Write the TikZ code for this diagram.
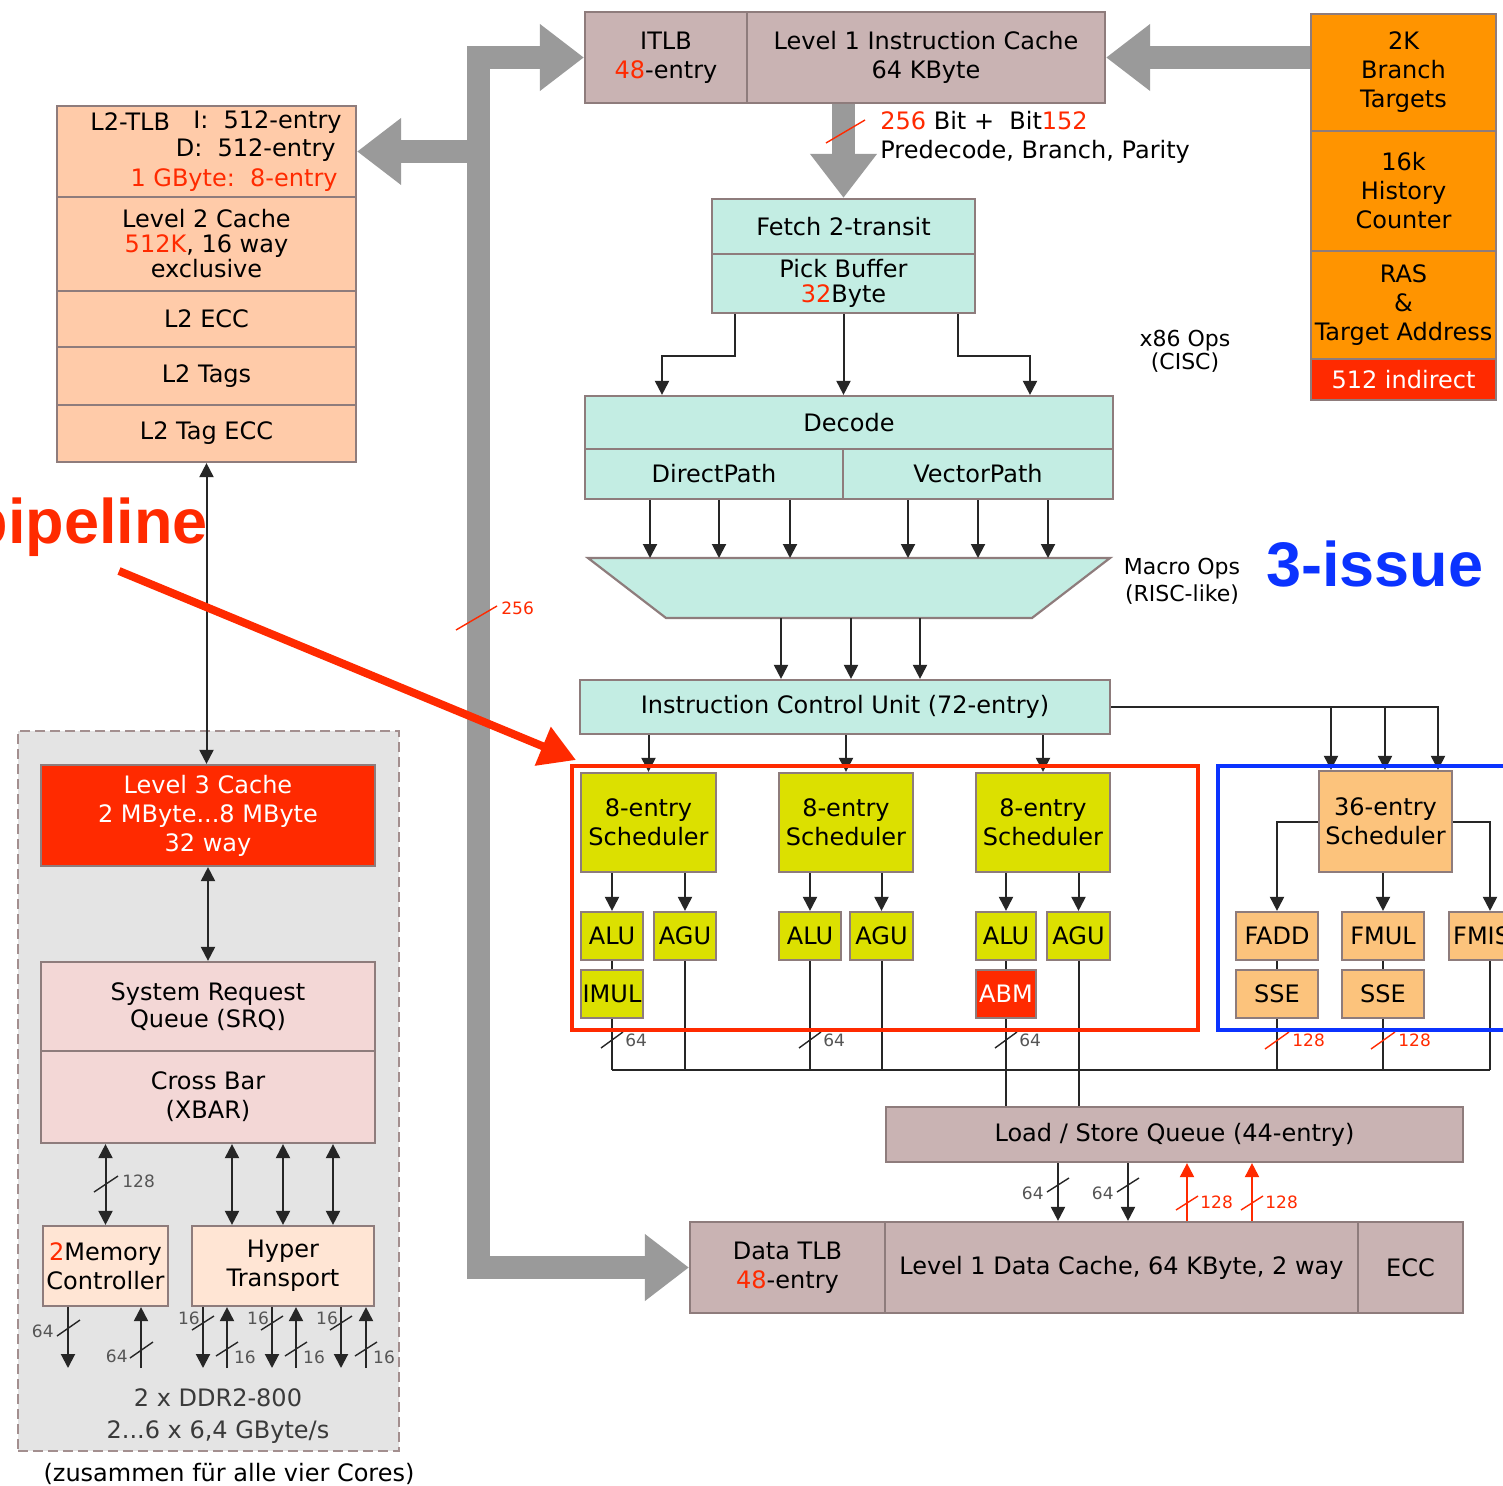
\documentclass[tikz,border=0pt]{standalone}
\usepackage{fontspec}
\setmainfont{DejaVu Sans}
\newfontfamily\annfont{Liberation Sans}
\usetikzlibrary{arrows.meta,fit}

\definecolor{taupe}{HTML}{C9B3B3}
\definecolor{bordc}{HTML}{8E7C7C}
\definecolor{teal}{HTML}{C3EDE3}
\definecolor{ltwo}{HTML}{FFCBA9}
\definecolor{srqc}{HTML}{F3D7D6}
\definecolor{ioc}{HTML}{FFE5D4}
\definecolor{bpo}{HTML}{FF9400}
\definecolor{hred}{HTML}{FF2A00}
\definecolor{yel}{HTML}{DCE000}
\definecolor{fpo}{HTML}{FCC37C}
\definecolor{busc}{HTML}{9A9A9A}
\definecolor{sysc}{HTML}{E4E4E4}
\definecolor{dashc}{HTML}{A38F8F}
\definecolor{hblue}{HTML}{0B33FF}
\definecolor{lnc}{HTML}{262626}
\definecolor{smc}{HTML}{555555}
\definecolor{ddrc}{HTML}{3A3A3A}

\newcommand\nf{\fontsize{12}{14.5}\selectfont}
\newcommand\smf{\fontsize{8.5}{10}\selectfont}
\newcommand\rd[1]{\textcolor{hred}{#1}}

\begin{document}
\begin{tikzpicture}[x=0.5pt,y=-0.5pt,
  blk/.style={draw=bordc, line width=1.1pt, inner sep=0pt},
  txt/.style={font=\nf, align=center, inner sep=0pt, text=black},
  ctext/.style={label={[txt]center:{#1}}},
  wtext/.style={label={[txt,text=white]center:{#1}}},
  ln/.style={draw=lnc, line width=1pt},
  arr/.style={ln, -{Triangle[length=7pt,width=7pt]}},
  darr/.style={ln, {Triangle[length=7pt,width=7pt]}-{Triangle[length=7pt,width=7pt]}},
  bus/.style={draw=busc, line width=11.5pt},
  busarr/.style={bus, -{Triangle[length=22pt,width=32pt]}},
  busarrs/.style={bus, {Triangle[length=22pt,width=32pt]}-{Triangle[length=22pt,width=32pt]}},
  slash/.style={draw=#1, line width=0.7pt},
  wl/.style={font=\smf, text=#1, inner sep=0pt},
]
\useasboundingbox (0,0) rectangle (1503,1486);
\fill[white] (0,0) rectangle (1503,1486);

% ---------- system block (shared by all cores) ----------
\node[fill=sysc, draw=dashc, line width=1.2pt, dash pattern=on 5pt off 2.5pt,
      inner sep=0pt, fit={(18,731) (399,1451)}] (sys) {};

% ---------- L2 stack ----------
\node[blk, fill=ltwo, fit={(57,106) (356,197)}] (l2tlb) {};
\node[txt, anchor=west] (l2tlbn) at (90,122) {L2-TLB};
\node[txt, anchor=east] (l2i) at (342,122) {I:\ \ 512-entry};
\node[txt, anchor=east] (l2d) at (336,150) {D:\ \ 512-entry};
\node[txt, anchor=east, text=hred] (l2g) at (338,180) {1 GByte:\ \ 8-entry};
\node[blk, fill=ltwo, fit={(57,197) (356,291)}, ctext={Level 2 Cache\\[-2pt]\rd{512K}, 16 way\\[-2pt]exclusive}] (l2c) {};
\node[blk, fill=ltwo, fit={(57,291) (356,347)}, ctext={L2 ECC}] (l2ecc) {};
\node[blk, fill=ltwo, fit={(57,347) (356,405)}, ctext={L2 Tags}] (l2tag) {};
\node[blk, fill=ltwo, fit={(57,405) (356,462)}, ctext={L2 Tag ECC}] (l2tecc) {};

% ---------- instruction cache, branch prediction ----------
\node[blk, fill=taupe, fit={(585,12) (747,103)}, ctext={ITLB\\\rd{48}-entry}] (itlb) {};
\node[blk, fill=taupe, fit={(747,12) (1105,103)}, ctext={Level 1 Instruction Cache\\64 KByte}] (l1i) {};
\node[blk, fill=bpo, fit={(1311,14) (1496,131)}, ctext={2K\\Branch\\Targets}] (btb) {};
\node[blk, fill=bpo, fit={(1311,131) (1496,251)}, ctext={16k\\History\\Counter}] (hist) {};
\node[blk, fill=bpo, fit={(1311,251) (1496,359)}, ctext={RAS\\\&\\Target Address}] (ras) {};
\node[blk, fill=hred, fit={(1311,359) (1496,400)}, wtext={512 indirect}] (ind) {};

% ---------- fetch / decode ----------
\node[blk, fill=teal, fit={(712,199) (975,254)}, ctext={Fetch 2-transit}] (fetcha) {};
\node[blk, fill=teal, fit={(712,254) (975,313)}, ctext={Pick Buffer\\[-2pt]\rd{32}Byte}] (fetchb) {};
\node[blk, fill=teal, fit={(585,396) (1113,449)}, ctext={Decode}] (dec) {};
\node[blk, fill=teal, fit={(585,449) (843,499)}, ctext={DirectPath}] (dpath) {};
\node[blk, fill=teal, fit={(843,449) (1113,499)}, ctext={VectorPath}] (vpath) {};

% pack stage (trapezoid)
\draw[blk, fill=teal] (588,558) -- (1110,558) -- (1032,618) -- (666,618) -- cycle;
\coordinate (muxt) at (849,558);
\coordinate (muxb) at (849,618);

\node[blk, fill=teal, fit={(580,680) (1110,734)}, ctext={Instruction Control Unit (72-entry)}] (icu) {};

% ---------- integer cluster ----------
\node[blk, fill=yel, fit={(581,773) (716,872)}, ctext={8-entry\\Scheduler}] (s1) {};
\node[blk, fill=yel, fit={(779,773) (913,872)}, ctext={8-entry\\Scheduler}] (s2) {};
\node[blk, fill=yel, fit={(976,773) (1110,872)}, ctext={8-entry\\Scheduler}] (s3) {};
\node[blk, fill=yel, fit={(581,912) (643,960)}, ctext={ALU}] (alu1) {};
\node[blk, fill=yel, fit={(654,912) (716,960)}, ctext={AGU}] (agu1) {};
\node[blk, fill=yel, fit={(581,970) (643,1018)}, ctext={IMUL}] (imul) {};
\node[blk, fill=yel, fit={(779,912) (841,960)}, ctext={ALU}] (alu2) {};
\node[blk, fill=yel, fit={(850,912) (913,960)}, ctext={AGU}] (agu2) {};
\node[blk, fill=yel, fit={(976,912) (1036,960)}, ctext={ALU}] (alu3) {};
\node[blk, fill=yel, fit={(1047,912) (1110,960)}, ctext={AGU}] (agu3) {};
\node[blk, fill=hred, fit={(976,970) (1036,1018)}, wtext={ABM}] (abm) {};

% ---------- floating point cluster ----------
\node[blk, fill=fpo, fit={(1319,771) (1452,872)}, ctext={36-entry\\Scheduler}] (fps) {};
\node[blk, fill=fpo, fit={(1236,912) (1318,960)}, ctext={FADD}] (fadd) {};
\node[blk, fill=fpo, fit={(1342,912) (1424,960)}, ctext={FMUL}] (fmul) {};
\node[blk, fill=fpo, fit={(1449,912) (1531,960)}, ctext={FMISC}] (fmisc) {};
\node[blk, fill=fpo, fit={(1236,970) (1318,1018)}, ctext={SSE}] (sse1) {};
\node[blk, fill=fpo, fit={(1342,970) (1424,1018)}, ctext={SSE}] (sse2) {};

% ---------- load/store, data cache ----------
\node[blk, fill=taupe, fit={(886,1107) (1463,1162)}, ctext={Load / Store Queue (44-entry)}] (lsq) {};
\node[blk, fill=taupe, fit={(690,1222) (885,1313)}, ctext={Data TLB\\\rd{48}-entry}] (dtlb) {};
\node[blk, fill=taupe, fit={(885,1222) (1358,1313)}, ctext={Level 1 Data Cache, 64 KByte, 2 way}] (l1d) {};
\node[blk, fill=taupe, fit={(1358,1222) (1463,1313)}, ctext={ECC}] (ecc) {};

% ---------- L3, SRQ, crossbar, I/O ----------
\node[blk, fill=hred, fit={(41,765) (375,866)}, wtext={Level 3 Cache\\2 MByte...8 MByte\\32 way}] (l3) {};
\node[blk, fill=srqc, fit={(41,962) (375,1051)}, ctext={System Request\\[-1pt]Queue (SRQ)}] (srq) {};
\node[blk, fill=srqc, fit={(41,1051) (375,1143)}, ctext={Cross Bar\\(XBAR)}] (xbar) {};
\node[blk, fill=ioc, fit={(43,1226) (168,1306)}, ctext={\rd{2}Memory\\Controller}] (mc) {};
\node[blk, fill=ioc, fit={(192,1226) (374,1306)}, ctext={Hyper\\Transport}] (ht) {};

% ---------- wide internal buses ----------
\coordinate (busbend) at (478,1267.5);
\draw[busarrs] (itlb.west) -| (busbend) -- (dtlb.west);
\draw[busarr] (busbend |- l2tlb.east) -- (l2tlb.east);
\draw[busarr] (btb.west |- l1i.east) -- (l1i.east);
\draw[busarr] (fetcha.north |- l1i.south) -- (fetcha.north);
\draw[slash=hred] (456,630) -- (497,606);
\node[wl=hred, anchor=west] (w256) at (501,608) {256};
\draw[slash=hred] (826,143) -- (865,120);
\node[txt, anchor=west] (ifw) at (880,121) {\rd{256} Bit +\ \ Bit\rd{152}};
\node[txt, anchor=west] (ifp) at (880,152) {Predecode, Branch, Parity};

% ---------- front-end connectors ----------
\draw[arr] (735,0 |- fetchb.south) -- ++(0,42) -| (662,0 |- dec.north);
\draw[arr] (fetchb.south) -- (fetchb.south |- dec.north);
\draw[arr] (958,0 |- fetchb.south) -- ++(0,42) -| (1030,0 |- dec.north);
\foreach \xx in {650,719,790} \draw[arr] (\xx,0 |- dpath.south) -- (\xx,0 |- muxt);
\foreach \xx in {908,978,1048} \draw[arr] (\xx,0 |- vpath.south) -- (\xx,0 |- muxt);
\foreach \xx in {781,851,920} \draw[arr] (\xx,0 |- muxb) -- (\xx,0 |- icu.north);
\node[txt, font=\fontsize{11}{11.5}\selectfont] (x86) at (1185,351) {x86 Ops\\(CISC)};
\node[txt, font=\fontsize{11}{13.5}\selectfont] (mops) at (1182,581) {Macro Ops\\(RISC-like)};

% ---------- dispatch ----------
\draw[arr] (s1.north |- icu.south) -- (s1.north);
\draw[arr] (s2.north |- icu.south) -- (s2.north);
\draw[arr] (s3.north |- icu.south) -- (s3.north);
\draw[arr] (icu.east) -| (1438,0 |- fps.north);
\draw[arr] (1331,0 |- icu.east) -- (1331,0 |- fps.north);
\draw[arr] (1385,0 |- icu.east) -- (1385,0 |- fps.north);

% ---------- issue to execution units ----------
\foreach \s/\u in {s1/alu1,s1/agu1,s2/alu2,s2/agu2,s3/alu3,s3/agu3}
  \draw[arr] (\u.north |- \s.south) -- (\u.north);
\draw[arr] (fps.west) -| (fadd.north);
\draw[arr] (fmul.north |- fps.south) -- (fmul.north);
\draw[arr] (fps.east) -| (fmisc.north);

% ---------- result buses ----------
\coordinate (rbl) at (612,1070);
\coordinate (rbr) at (1490,1070);
\draw[ln] (rbl) -- (rbr);
\draw[ln] (alu1.south) -- (imul.north);
\draw[ln] (imul.south) -- (imul.south |- rbl);
\draw[ln] (agu1.south) -- (agu1.south |- rbl);
\draw[ln] (alu2.south) -- (alu2.south |- rbl);
\draw[ln] (agu2.south) -- (agu2.south |- rbl);
\draw[ln] (alu3.south) -- (abm.north);
\draw[ln] (abm.south) -- (abm.south |- lsq.north);
\draw[ln] (agu3.south) -- (agu3.south |- lsq.north);
\draw[ln] (fadd.south) -- (sse1.north);
\draw[ln] (sse1.south) -- (sse1.south |- rbl);
\draw[ln] (fmul.south) -- (sse2.north);
\draw[ln] (sse2.south) -- (sse2.south |- rbl);
\draw[ln] (fmisc.south) -- (fmisc.south |- rbl);
\foreach \xx/\nm in {612/a,810/b,1006/c} {
  \draw[slash=lnc] (\xx-11,1048) -- (\xx+11,1032);
  \node[wl=smc, anchor=west] (r64\nm) at (\xx+13,1040) {64};
}
\foreach \xx/\nm in {1277/a,1383/b} {
  \draw[slash=hred] (\xx-12,1049) -- (\xx+12,1032);
  \node[wl=hred, anchor=west] (r128\nm) at (\xx+15,1040) {128};
}

% ---------- load/store to data cache ----------
\draw[arr] (1058,0 |- lsq.south) -- (1058,0 |- l1d.north);
\draw[arr] (1128,0 |- lsq.south) -- (1128,0 |- l1d.north);
\draw[arr, draw=hred] (1187,0 |- l1d.north) -- (1187,0 |- lsq.south);
\draw[arr, draw=hred] (1252,0 |- l1d.north) -- (1252,0 |- lsq.south);
\foreach \xx/\nm in {1058/a,1128/b} {
  \draw[slash=lnc] (\xx-11,1192) -- (\xx+11,1178);
  \node[wl=smc, anchor=east] (d64\nm) at (\xx-14,1193) {64};
}
\foreach \xx/\nm in {1187/a,1252/b} {
  \draw[slash=hred] (\xx-11,1210) -- (\xx+11,1196);
  \node[wl=hred, anchor=west] (d128\nm) at (\xx+13,1202) {128};
}

% ---------- system side connectors ----------
\draw[darr] (l2tecc.south) -- (l2tecc.south |- l3.north);
\draw[darr] (l3.south) -- (l3.south |- srq.north);
\draw[darr] (mc.north |- xbar.south) -- (mc.north);
\draw[slash=lnc] (94,1192) -- (118,1176);
\node[wl=smc, anchor=west] (x128) at (122,1181) {128};
\foreach \xx in {232,283,333} \draw[darr] (\xx,0 |- xbar.south) -- (\xx,0 |- ht.north);

\coordinate (memdn) at (68,1368);
\coordinate (memup) at (141,1368);
\draw[arr] (68,0 |- mc.south) -- (memdn);
\draw[arr] (memup) -- (141,0 |- mc.south);
\draw[slash=lnc] (57,1336) -- (80,1320);
\node[wl=smc, anchor=east] (m64a) at (54,1331) {64};
\draw[slash=lnc] (130,1358) -- (153,1342);
\node[wl=smc, anchor=east] (m64b) at (128,1356) {64};

\foreach \xd/\xu/\nm in {203/227/a,272/296/b,341/366/c} {
  \draw[arr] (\xd,0 |- ht.south) -- (\xd,1368);
  \draw[arr] (\xu,1368) -- (\xu,0 |- ht.south);
  \draw[slash=lnc] (\xd-11,1330) -- (\xd+11,1316);
  \node[wl=smc] (hd\nm) at (\xd-14,1318) {16};
  \draw[slash=lnc] (\xu-11,1356) -- (\xu+11,1342);
  \node[wl=smc] (hu\nm) at (\xu+18,1357) {16};
}
\node[txt, text=ddrc] (ddr) at (218,1416) {2 x DDR2-800\\[1.5pt]2...6 x 6,4 GByte/s};
\node[txt] (allc) at (229,1474) {(zusammen für alle vier Cores)};

% ---------- highlight frames and notes ----------
\node[draw=hred, line width=2pt, inner sep=0pt, fit={(572,766) (1198,1030)}] (intgrp) {};
\node[draw=hblue, line width=2pt, inner sep=0pt, fit={(1218,766) (1530,1030)}] (fpgrp) {};
\node[anchor=base east, inner sep=0pt, text=hred,
      font=\annfont\bfseries\fontsize{31.5}{31.5}\selectfont] (pipe) at (208,543) {pipeline};
\node[anchor=base west, inner sep=0pt, text=hblue,
      font=\annfont\bfseries\fontsize{31.5}{31.5}\selectfont] (issue) at (1266,586) {3-issue};
\coordinate (notest) at (119,571);
\draw[draw=hred, line width=4pt, -{Triangle[length=18pt,width=20pt]}] (notest) -- ([shift={(6,-4)}]intgrp.north west);
\end{tikzpicture}
\end{document}
